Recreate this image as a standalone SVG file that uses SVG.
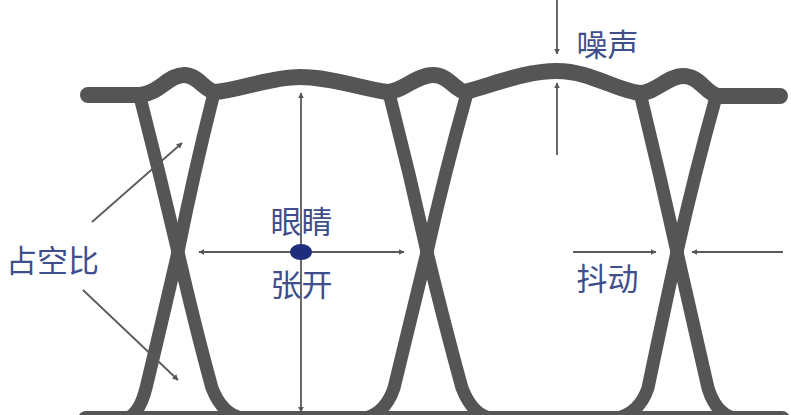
<svg xmlns="http://www.w3.org/2000/svg" width="791" height="415" viewBox="0 0 791 415">
<defs>
<marker id="ah" viewBox="0 0 10 10" refX="9" refY="5" markerWidth="6" markerHeight="6" markerUnits="userSpaceOnUse" orient="auto-start-reverse">
<path d="M0 0 L10 5 L0 10 z" fill="#555"/>
</marker>
<style>
.trace{fill:none;stroke:#555;stroke-width:13;stroke-linecap:round;stroke-linejoin:round}
.rail{fill:none;stroke:#555;stroke-width:16;stroke-linecap:round;stroke-linejoin:round}
.arr{fill:none;stroke:#5a5a5a;stroke-width:1.8;marker-end:url(#ah)}
.arr2{fill:none;stroke:#5a5a5a;stroke-width:1.8;marker-end:url(#ah);marker-start:url(#ah)}
.lbl{font-family:"Noto Sans CJK SC","Noto Sans",sans-serif;font-size:31px;fill:#3f4e8c;text-anchor:middle}
</style>
</defs>
<rect width="791" height="415" fill="#fff"/>
<g id="eye-traces">
<path class="rail" d="M 88 95 L 140 95 C 160 93, 168 75, 184 75 C 198 75, 204 90, 215 92 C 240 90, 270 77, 300 77 C 330 77, 360 88, 387 92 C 402 92, 416 75, 433 75 C 448 75, 455 90, 465 92 C 495 84, 525 71, 557 71 C 590 71, 615 90, 640 93 C 655 93, 668 76, 683 76 C 700 76, 705 93, 718 96 L 780 96"/>
<path class="rail" d="M 86 419 L 782 419"/>
<path class="trace" d="M 140 97 Q 160 175 178 252 Q 196 330 212 388 Q 222 414 242 418"/>
<path class="trace" d="M 213 97 Q 194 172 178 252 Q 160 330 146 388 Q 140 412 128 418"/>
<path class="trace" d="M 390 97 Q 410 175 427 252 Q 446 330 462 388 Q 472 414 490 418"/>
<path class="trace" d="M 466 97 Q 445 172 427 252 Q 408 330 394 388 Q 386 412 366 418"/>
<path class="trace" d="M 641 97 Q 660 175 677 252 Q 695 330 708 388 Q 716 414 734 418"/>
<path class="trace" d="M 716 97 Q 695 172 677 252 Q 660 330 648 388 Q 640 412 618 418"/>
</g>
<g id="connectors">
<line class="arr2" x1="301" y1="93" x2="301" y2="412"/>
<line class="arr2" x1="199" y1="252" x2="404" y2="252"/>
<line class="arr" x1="557" y1="0" x2="557" y2="54"/>
<line class="arr" x1="557" y1="155" x2="557" y2="83"/>
<line class="arr" x1="573" y1="252" x2="656" y2="252"/>
<line class="arr" x1="783" y1="252" x2="692" y2="252"/>
<line class="arr" x1="92" y1="222" x2="182" y2="143"/>
<line class="arr" x1="83" y1="290" x2="178" y2="380"/>
</g>
<g id="eye-center">
<ellipse cx="301" cy="252" rx="11" ry="8" fill="#1f2d7d"/>
</g>
<g id="label-eye">
<text class="lbl" x="301.5" y="233">眼睛</text>
<text class="lbl" x="301.5" y="296">张开</text>
</g>
<g id="label-duty">
<text class="lbl" x="52.5" y="272">占空比</text>
</g>
<g id="label-noise">
<text class="lbl" x="607.5" y="56">噪声</text>
</g>
<g id="label-jitter">
<text class="lbl" x="607.5" y="290">抖动</text>
</g>
</svg>
